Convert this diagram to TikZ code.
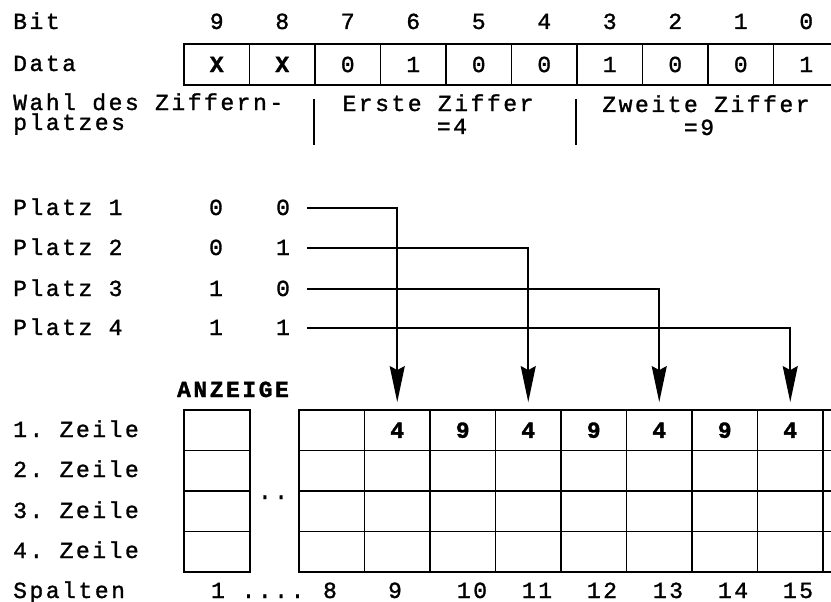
\documentclass[tikz,border=0pt]{standalone}
\usepackage{fontspec}
\setmonofont{Liberation Mono}[LetterSpace=11, UprightFeatures={FakeBold=1.3}, BoldFeatures={FakeBold=1.5}]
\usetikzlibrary{arrows.meta}
\begin{document}
\begin{tikzpicture}[x=1pt,y=-1pt,
  every node/.style={font=\ttfamily\fontsize{23}{23}\selectfont},
  lbl/.style={inner sep=0pt, anchor=base west},
  ctr/.style={inner sep=0pt, anchor=base},
  cell/.style={draw, line width=1.8pt, minimum width=65.5pt, minimum height=41pt, inner sep=0pt, anchor=center},
  gcell/.style={draw, line width=1.8pt, minimum width=65.5pt, minimum height=40.5pt, inner sep=0pt, anchor=center, font=\ttfamily\bfseries\fontsize{23}{23}\selectfont},
  conn/.style={line width=1.8pt, -{Stealth[length=36pt,width=15pt,inset=4pt]}},
  tick/.style={line width=1.8pt}]
\useasboundingbox (0,0) rectangle (831,602);
\clip (0,0) rectangle (831,602);
\fill[white] (0,0) rectangle (831,602);
% bit table
\node[lbl] (bitl) at (13,29) {Bit};
\node[lbl] (datal) at (13,71) {Data};
\foreach \b/\v [count=\i from 0] in {9/{\bfseries X},8/{\bfseries X},7/0,6/1,5/0,4/0,3/1,2/0,1/0,0/1} {
  \node[cell] (d\b) at ({216.75+65.5*\i},64.5) {\v};
  \node[ctr] (b\b) at ({216.75+65.5*\i},29) {\b};
}
\node[lbl, align=left] (wahl) at (13,130) {Wahl des Ziffern-\\[-3pt]platzes};
\node[ctr] (erste) at (438,111) {Erste Ziffer};
\node[ctr] (eq4) at (452,134) {=4};
\node[ctr] (zweite) at (706,112) {Zweite Ziffer};
\node[ctr] (eq9) at (699,135) {=9};
\draw[tick] ([yshift=-13pt]d7.south west) -- ([yshift=-59pt]d7.south west);
\draw[tick] ([yshift=-13pt]d3.south west) -- ([yshift=-59pt]d3.south west);
% Platz rows
\foreach \r/\a/\bb/\y in {1/0/0/215,2/0/1/255,3/1/0/296,4/1/1/335} {
  \node[lbl] (pl\r) at (13,\y) {Platz \r};
  \node[ctr] (pa\r) at (216,\y) {\a};
  \node[ctr] (pb\r) at (283,\y) {\bb};
  \coordinate (ps\r) at (307,\y-7);
}
% display grid
\node[ctr, font=\ttfamily\bfseries\fontsize{23}{23}\selectfont] (anz) at (233,397) {ANZEIGE};
\foreach \r in {1,...,4} {
  \node[gcell, minimum width=66pt] (s-\r) at (217,{389.75+40.5*\r}) {};
}
\foreach \r in {2,...,4} {
  \foreach \c in {8,...,16} {
    \node[gcell] (c\c-\r) at ({331.75+65.5*(\c-8)},{389.75+40.5*\r}) {};
  }
}
\foreach \c/\v in {8/{},9/4,10/9,11/4,12/9,13/4,14/9,15/4,16/{}} {
  \node[gcell] (c\c-1) at ({331.75+65.5*(\c-8)},430.25) {\v};
}
\node[ctr] (dots) at (273,499) {..};
% row labels
\foreach \r/\y in {1/437,2/477,3/518,4/558} {
  \node[lbl] (z\r) at (13,\y) {\r. Zeile};
}
\node[lbl] (sp) at (13,598) {Spalten};
\node[ctr] (n1) at (218,598) {1};
\node[ctr] (ndots) at (273,598) {....};
\foreach \n/\x in {8/330,9/395,10/472,11/537,12/602,13/668,14/733,15/798} {
  \node[ctr] (n\n) at (\x,598) {\n};
}
% connectors
\draw[conn] (ps1) -| ([yshift=7pt]c9-1.north);
\draw[conn] (ps2) -| ([yshift=7pt]c11-1.north);
\draw[conn] (ps3) -| ([yshift=7pt]c13-1.north);
\draw[conn] (ps4) -| ([yshift=7pt]c15-1.north);
\end{tikzpicture}
\end{document}
